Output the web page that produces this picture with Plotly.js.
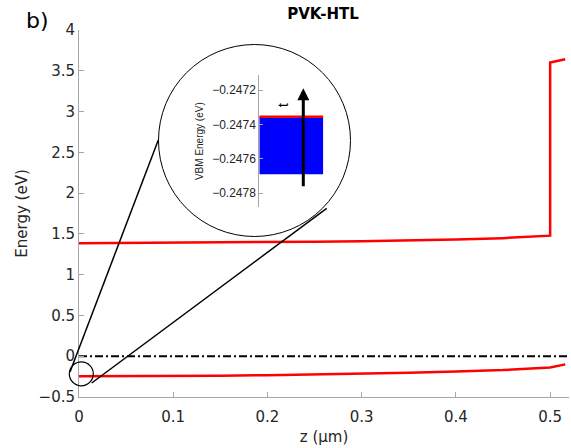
<!DOCTYPE html>
<html>
<head>
<meta charset="utf-8">
<script src="https://cdn.plot.ly/plotly-3.0.1.min.js"></script>
<style>
html,body{margin:0;padding:0;background:#fff;}
#chart{width:571px;height:448px;}
</style>
</head>
<body>
<div id="chart"></div>
<script>
// ---- data ----
const zUpper = [0, 0.05, 0.1, 0.15, 0.2, 0.25, 0.3, 0.35, 0.4, 0.45, 0.5, 0.5, 0.516];
const eUpper = [1.385, 1.387, 1.390, 1.394, 1.398, 1.404, 1.411, 1.419, 1.430, 1.448, 1.478, 3.60, 3.642];

const zLower = [0, 0.05, 0.1, 0.15, 0.2, 0.25, 0.3, 0.35, 0.4, 0.45, 0.5, 0.516];
const eLower = [-0.247, -0.246, -0.243, -0.239, -0.233, -0.225, -0.215, -0.202, -0.187, -0.170, -0.137, -0.100];

const zFermi = [0, 0.52];
const eFermi = [0, 0];

// inset (zoom of VBM near z = 0)
const insetZ = [0, 0.01];
const vbmEarly = [-0.24769, -0.24769];
const vbmLate = [-0.247356, -0.247356];

const xTickVals = [0, 0.1, 0.2, 0.3, 0.4, 0.5];
const yTickVals = [-0.5, 0, 0.5, 1, 1.5, 2, 2.5, 3, 3.5, 4];
const insetTickVals = [-0.2478, -0.2476, -0.2474, -0.2472];
const insetTickText = ['\u22120.2478', '\u22120.2476', '\u22120.2474', '\u22120.2472'];

// ---- layout helpers (pixel -> paper) ----
const W = 571, H = 448;
const L = 79, R = 2, T = 30, B = 51;
const PW = W - L - R, PH = H - T - B;
const px = x => (x - L) / PW;
const py = y => (H - B - y) / PH;

const font = 'DejaVu Sans';
const ink = '#262626';
const axc = '#a6a6a6';

const traces = [
  {x: zFermi, y: eFermi, mode: 'lines', line: {color: '#000', width: 2, dash: '8px,3px,2px,3px'}, hoverinfo: 'skip'},
  {x: zUpper, y: eUpper, mode: 'lines', line: {color: '#ff0000', width: 2.5}, hoverinfo: 'skip'},
  {x: zLower, y: eLower, mode: 'lines', line: {color: '#ff0000', width: 2.5}, hoverinfo: 'skip'},
  {x: insetZ, y: vbmEarly, xaxis: 'x2', yaxis: 'y2', mode: 'lines', line: {color: '#0000ff', width: 0}, hoverinfo: 'skip'},
  {x: insetZ, y: vbmLate, xaxis: 'x2', yaxis: 'y2', mode: 'lines', fill: 'tonexty', fillcolor: '#0000ff', line: {color: '#0000ff', width: 0}, hoverinfo: 'skip'},
  {x: insetZ, y: vbmLate, xaxis: 'x2', yaxis: 'y2', mode: 'lines', line: {color: '#ff0000', width: 2.5}, hoverinfo: 'skip'}
];

const big = {cx: 254.5, cy: 140.5, r: 96};
const small = {cx: 81.3, cy: 373.8, r: 12};

const layout = {
  width: W, height: H,
  margin: {l: L, r: R, t: T, b: B},
  paper_bgcolor: '#fff', plot_bgcolor: 'rgba(0,0,0,0)',
  showlegend: false,
  font: {family: font, color: ink},
  title: {
    text: '<b>PVK-HTL</b>', font: {family: font, size: 15, color: '#000'},
    xref: 'paper', x: px(323), xanchor: 'center',
    yref: 'container', y: 1 - 14 / H, yanchor: 'middle'
  },
  xaxis: {
    range: [0, 0.52], tickvals: xTickVals, ticks: 'inside', ticklen: 5, tickcolor: axc,
    showline: true, linecolor: axc, linewidth: 1, showgrid: false, zeroline: false,
    tickfont: {family: font, size: 15, color: ink}, ticklabelstandoff: 6,
    title: {text: 'z (\u03bcm)', font: {family: font, size: 15, color: ink}, standoff: 6},
    automargin: false, anchor: 'y'
  },
  yaxis: {
    range: [-0.5, 4], tickvals: yTickVals, ticks: 'inside', ticklen: 5, tickcolor: axc,
    showline: true, linecolor: axc, linewidth: 1, showgrid: false, zeroline: false,
    tickfont: {family: font, size: 15, color: ink},
    title: {text: 'Energy (eV)', font: {family: font, size: 15, color: ink}, standoff: 7},
    automargin: false, anchor: 'x'
  },
  xaxis2: {
    domain: [px(259.3), px(323.3)], range: [0, 0.01], visible: false, anchor: 'y2', fixedrange: true
  },
  yaxis2: {
    domain: [py(207.3), py(75)], range: [-0.247882, -0.2471128], anchor: 'x2',
    tickvals: insetTickVals, ticktext: insetTickText, ticks: 'inside', ticklen: 4, tickcolor: axc,
    showline: true, linecolor: axc, linewidth: 1, showgrid: false, zeroline: false,
    tickfont: {family: 'Liberation Sans', size: 12, color: ink},
    title: {text: 'VBM Energy (eV)', font: {family: 'Liberation Sans', size: 10, color: ink}, standoff: 6},
    automargin: false, fixedrange: true
  },
  shapes: [
    {type: 'circle', xref: 'paper', yref: 'paper',
     x0: px(big.cx - big.r), x1: px(big.cx + big.r), y0: py(big.cy + big.r), y1: py(big.cy - big.r),
     line: {color: '#000', width: 1}, fillcolor: 'rgba(0,0,0,0)', layer: 'above'},
    {type: 'circle', xref: 'paper', yref: 'paper',
     x0: px(small.cx - small.r), x1: px(small.cx + small.r), y0: py(small.cy + small.r), y1: py(small.cy - small.r),
     line: {color: '#000', width: 1.2}, fillcolor: 'rgba(0,0,0,0)', layer: 'above'},
    {type: 'line', xref: 'paper', yref: 'paper',
     x0: px(70), y0: py(372), x1: px(158.3), y1: py(140), line: {color: '#000', width: 1.5}, layer: 'above'},
    {type: 'line', xref: 'paper', yref: 'paper',
     x0: px(91.7), y0: py(383), x1: px(326.7), y1: py(208.3), line: {color: '#000', width: 1.5}, layer: 'above'}
  ],
  annotations: [
    {text: 'b)', xref: 'paper', yref: 'paper', x: px(24), y: py(21), xanchor: 'left', yanchor: 'middle',
     showarrow: false, font: {family: font, size: 22, color: '#000'}},
    {text: '', xref: 'x2', yref: 'y2', axref: 'x2', ayref: 'y2',
     x: 0.006875, y: -0.24719, ax: 0.006875, ay: -0.247768,
     showarrow: true, arrowhead: 2, arrowsize: 0.8, arrowwidth: 3, arrowcolor: '#000'},
    {text: 't', xref: 'x2', yref: 'y2', x: 0.00375, y: -0.247287, showarrow: false, textangle: -90,
     font: {family: 'Liberation Sans', size: 15, color: '#000'}}
  ]
};

Plotly.newPlot('chart', traces, layout, {staticPlot: true, displayModeBar: false});
</script>
</body>
</html>
